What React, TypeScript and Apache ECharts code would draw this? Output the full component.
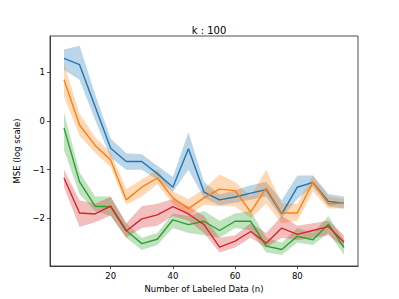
import React, { useEffect, useRef } from "react";
import * as echarts from "echarts";

const xs = [5, 10, 15, 20, 25, 30, 35, 40, 45, 50, 55, 60, 65, 70, 75, 80, 85, 90, 95];

const blueMean = [1.29, 1.16, 0.3, -0.56, -0.83, -0.83, -1.08, -1.36, -0.57, -1.46, -1.62, -1.56, -1.48, -1.41, -1.91, -1.36, -1.26, -1.65, -1.69];
const blueLo = [1.05, 0.85, 0.02, -0.75, -1.0, -1.0, -1.2, -1.46, -1.0, -1.58, -1.73, -1.68, -1.62, -1.55, -2.0, -1.6, -1.35, -1.75, -1.8];
const blueHi = [1.47, 1.55, 0.55, -0.36, -0.66, -0.68, -0.92, -1.15, -0.23, -1.25, -1.51, -1.42, -1.32, -1.25, -1.63, -1.12, -1.12, -1.5, -1.55];

const orangeMean = [0.85, -0.08, -0.5, -0.8, -1.62, -1.36, -1.17, -1.58, -1.8, -1.58, -1.4, -1.43, -1.87, -1.38, -1.89, -1.89, -1.26, -1.7, -1.69];
const orangeLo = [0.5, -0.3, -0.65, -0.95, -1.72, -1.55, -1.3, -1.7, -1.95, -1.72, -1.75, -1.75, -2.0, -1.7, -2.1, -2.05, -1.45, -1.8, -1.8];
const orangeHi = [1.18, 0.15, -0.33, -0.65, -1.4, -1.2, -1.0, -1.45, -1.6, -1.4, -1.1, -1.25, -1.55, -1.0, -1.7, -1.7, -1.12, -1.55, -1.6];

const greenMean = [-0.14, -1.25, -1.75, -1.76, -2.25, -2.52, -2.43, -2.03, -2.13, -2.06, -2.25, -2.06, -2.06, -2.57, -2.64, -2.37, -2.44, -2.12, -2.6];
const greenLo = [-0.6, -1.5, -1.85, -1.95, -2.4, -2.65, -2.55, -2.2, -2.3, -2.35, -2.4, -2.2, -2.25, -2.7, -2.75, -2.5, -2.55, -2.3, -2.75];
const greenHi = [0.18, -1.05, -1.55, -1.55, -2.1, -2.4, -2.3, -1.9, -1.95, -1.85, -2.05, -1.9, -1.85, -2.4, -2.5, -2.2, -2.3, -1.95, -2.45];

const redMean = [-1.17, -1.89, -1.91, -1.75, -2.26, -2.01, -1.93, -1.76, -1.91, -2.13, -2.59, -2.47, -2.27, -2.51, -2.2, -2.33, -2.25, -2.17, -2.49];
const redLo = [-1.36, -2.18, -2.08, -1.94, -2.4, -2.2, -2.15, -1.95, -2.05, -2.3, -2.7, -2.6, -2.4, -2.6, -2.4, -2.45, -2.4, -2.35, -2.6];
const redHi = [-1.0, -1.63, -1.7, -1.56, -2.1, -1.75, -1.7, -1.6, -1.75, -1.95, -2.4, -2.35, -2.1, -2.3, -1.95, -2.15, -2.1, -2.05, -2.35];

const xTicks = [20, 40, 60, 80];
const yTicks = [-2, -1, 0, 1];

const groups = [
  { color: "#1f77b4", mean: blueMean, lo: blueLo, hi: blueHi },
  { color: "#ff7f0e", mean: orangeMean, lo: orangeLo, hi: orangeHi },
  { color: "#2ca02c", mean: greenMean, lo: greenLo, hi: greenHi },
  { color: "#d62728", mean: redMean, lo: redLo, hi: redHi },
];

const FONT = "DejaVu Sans";

export default function App() {
  const ref = useRef<HTMLDivElement>(null);
  useEffect(() => {
    if (!ref.current) return;
    const chart = echarts.init(ref.current, null, { renderer: "svg" });
    const series: any[] = [];
    groups.forEach((g) => {
      const data = xs.map((x, i) => [x, g.lo[i], g.hi[i]]);
      series.push({
        type: "custom",
        data,
        encode: { x: 0, y: [1, 2] },
        silent: true,
        renderItem: (params: any, api: any) => {
          if (params.dataIndex !== 0) return null;
          const pts: number[][] = [];
          for (let i = 0; i < xs.length; i++) pts.push(api.coord([xs[i], g.hi[i]]));
          for (let i = xs.length - 1; i >= 0; i--) pts.push(api.coord([xs[i], g.lo[i]]));
          return {
            type: "polygon",
            shape: { points: pts },
            style: { fill: g.color, opacity: 0.3 },
          };
        },
      });
      series.push({
        type: "line",
        data: xs.map((x, i) => [x, g.mean[i]]),
        showSymbol: false,
        symbol: "none",
        lineStyle: { color: g.color, width: 1.4 },
        itemStyle: { color: g.color },
      });
    });
    const minus = (v: number) => String(v).replace("-", "\u2212");
    chart.setOption({
      animation: false,
      title: {
        text: "k : 100",
        left: 204,
        top: 20,
        textAlign: "center",
        textStyle: { fontFamily: FONT, fontSize: 10, fontWeight: "normal", color: "#000" },
      },
      grid: {
        left: 50,
        right: 41,
        top: 36,
        bottom: 33,
        show: true,
        borderColor: "#222",
        borderWidth: 0.8,
        backgroundColor: "transparent",
      },
      xAxis: {
        type: "value",
        min: 0.5,
        max: 99.5,
        name: "Number of Labeled Data (n)",
        nameLocation: "middle",
        nameGap: 18,
        nameTextStyle: { fontFamily: FONT, fontSize: 8.5, color: "#000" },
        splitLine: { show: false },
        axisLine: { show: true, onZero: false, lineStyle: { color: "#222", width: 0.8 } },
        axisTick: { show: true, customValues: xTicks, length: 3, lineStyle: { color: "#222", width: 0.8 } },
        axisLabel: { customValues: xTicks, fontFamily: FONT, fontSize: 8.5, color: "#000", margin: 5, formatter: minus },
      },
      yAxis: {
        type: "value",
        min: -2.98,
        max: 1.75,
        name: "MSE (log scale)",
        nameLocation: "middle",
        nameGap: 22,
        nameRotate: 90,
        nameTextStyle: { fontFamily: FONT, fontSize: 8.5, color: "#000" },
        splitLine: { show: false },
        axisLine: { show: true, onZero: false, lineStyle: { color: "#222", width: 0.8 } },
        axisTick: { show: true, customValues: yTicks, length: 3, lineStyle: { color: "#222", width: 0.8 } },
        axisLabel: { customValues: yTicks, fontFamily: FONT, fontSize: 8.5, color: "#000", margin: 5, formatter: minus },
      },
      series,
    });
    return () => chart.dispose();
  }, []);
  return (
    <div
      ref={ref}
      style={{ position: "fixed", left: 0, top: 0, width: 399, height: 299, background: "#fff" }}
    />
  );
}
